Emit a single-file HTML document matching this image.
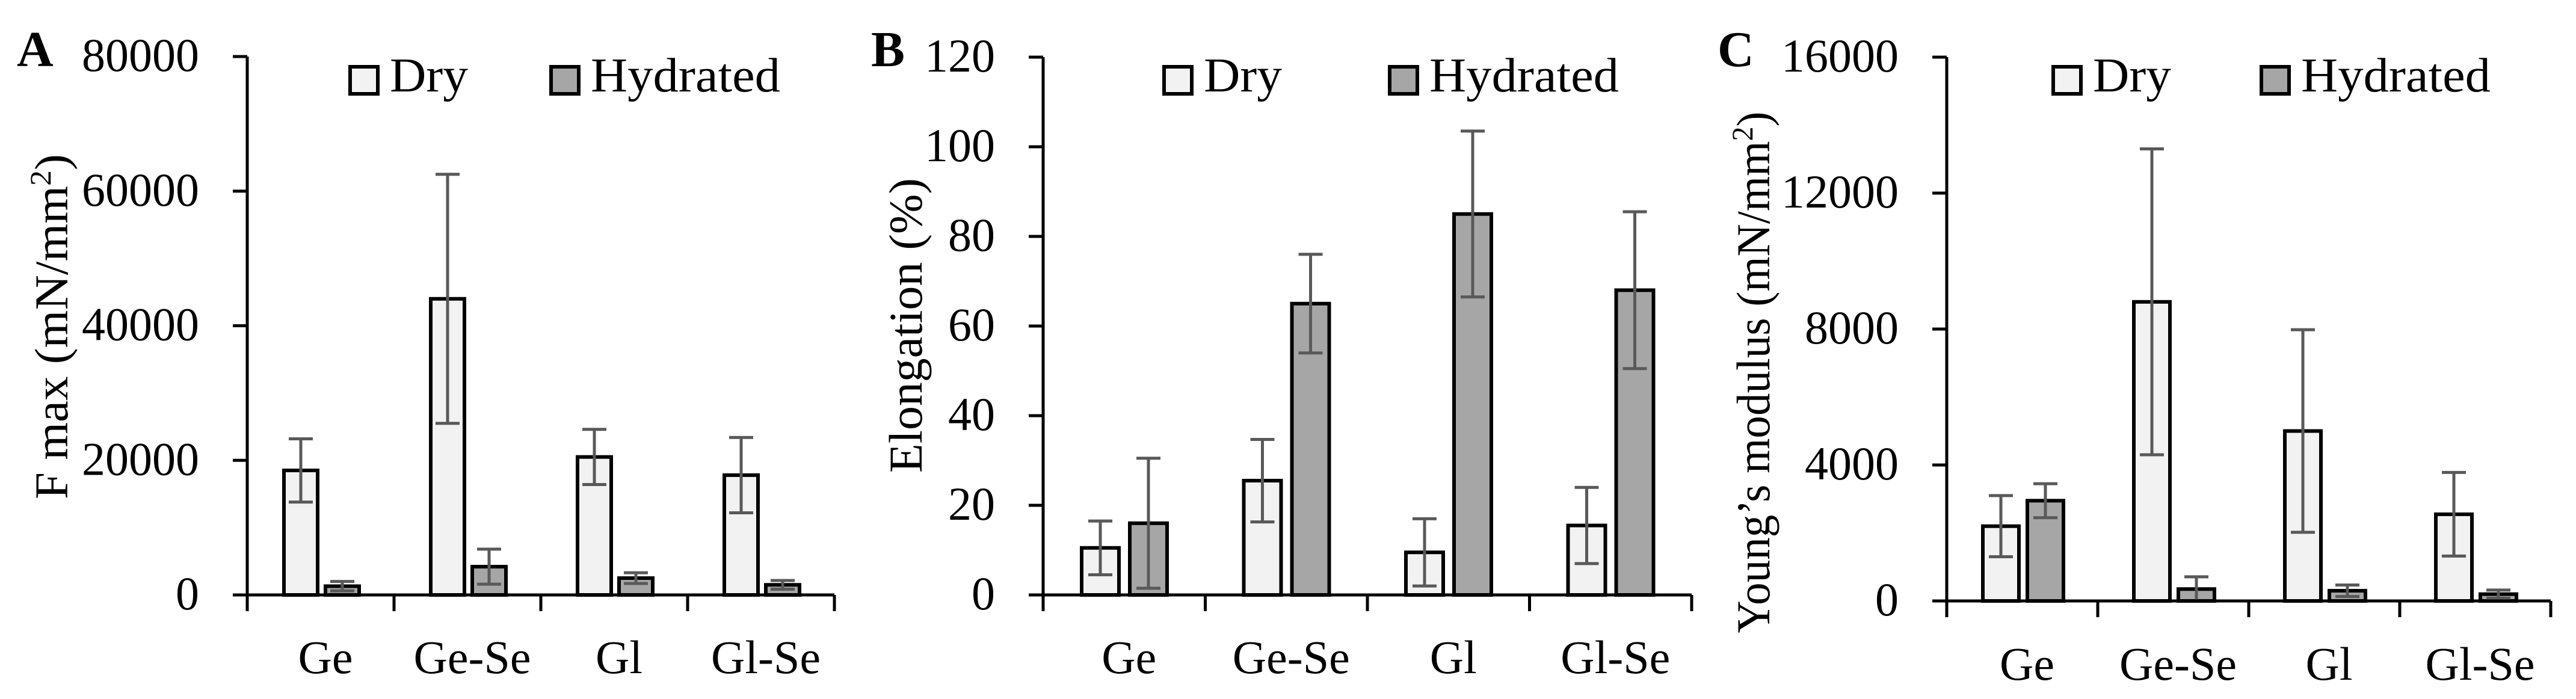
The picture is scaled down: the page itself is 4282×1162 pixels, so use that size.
<!DOCTYPE html>
<html><head><meta charset="utf-8"><style>
html,body{margin:0;padding:0;background:#fff;overflow:hidden;}
svg{display:block;}
svg text{font-family:"Liberation Serif","DejaVu Serif",serif;}
</style></head><body>
<svg id="fig" width="4282" height="1162" viewBox="0 0 4282 1162" font-family="Liberation Serif, DejaVu Serif, serif" xmlns="http://www.w3.org/2000/svg"></svg>
<script>
const categories = ["Ge","Ge-Se","Gl","Gl-Se"];
// Panel A: F max
const aDry = [18500, 44000, 20500, 17800];
const aDryErr = [4700, 18500, 4100, 5600];
const aHyd = [1300, 4200, 2500, 1500];
const aHydErr = [700, 2600, 800, 650];
const aTicks = [0, 20000, 40000, 60000, 80000];
// Panel B: Elongation
const bDry = [10.5, 25.5, 9.5, 15.5];
const bDryErr = [6, 9.2, 7.5, 8.5];
const bHyd = [16, 65, 85, 68];
const bHydErr = [14.5, 11, 18.5, 17.5];
const bTicks = [0, 20, 40, 60, 80, 100, 120];
// Panel C: Young's modulus
const cDry = [2200, 8800, 5000, 2550];
const cDryErr = [900, 4500, 2980, 1230];
const cHyd = [2950, 350, 300, 200];
const cHydErr = [500, 360, 170, 120];
const cTicks = [0, 4000, 8000, 12000, 16000];

const svg = document.getElementById('fig');
const NS = 'http://www.w3.org/2000/svg';
function mk(tag, attrs, parent){
  const e = document.createElementNS(NS, tag);
  for (const k in attrs) e.setAttribute(k, attrs[k]);
  (parent||svg).appendChild(e);
  return e;
}

function panel(p){
  const g = mk('g', {});
  
  
  const max = p.ticks[p.ticks.length-1];
  const y = v => p.y0 - (v / max) * (p.y0 - p.yTop);
  const cw = (p.xEnd - p.x0) / categories.length;
  const xc = i => p.x0 + i * cw;

  const L = mk('text', {x:p.letterX, y:110, 'font-size':84, 'font-weight':'bold'}, g);
  L.textContent = p.letter;
  
  

  const t = mk('text', {x:p.titleX, y:p.titleY, 'font-size':78, 'text-anchor':'middle',
    transform:`rotate(-90 ${p.titleX} ${p.titleY})`, textLength:p.titleLen, lengthAdjust:'spacingAndGlyphs'}, g);
  t.innerHTML = p.title;
  
  

  p.ticks.forEach(v => {
    const tk = mk('line', {x1:p.x0-24, x2:p.x0, y1:y(v), y2:y(v), stroke:'#000', 'stroke-width':5}, g);
    
    
    const tl = mk('text', {x:p.x0-80, y:y(v)+24, 'font-size':78, 'text-anchor':'end'}, g);
    tl.textContent = v;
    
    
  });

  categories.forEach((c, i) => {
    const series = [[p.dry[i], p.dryErr[i], '#f2f2f2', p.dOff, 'dry'], [p.hyd[i], p.hydErr[i], '#a6a6a6', p.hOff, 'hydrated']];
    series.forEach(s => {
      const bx = xc(i) + s[3];
      const r = mk('rect', {x:bx, y:y(s[0]), width:p.bw, height:p.y0 - y(s[0]), fill:s[2], stroke:'#000', 'stroke-width':6}, g);
      
      
      const cx = bx + p.bw/2;
      const lo = Math.max(0, s[0]-s[1]), hi = s[0]+s[1];
      const eg = mk('g', {stroke:'#595959', 'stroke-width':5}, g);
      
      
      mk('line', {x1:cx, x2:cx, y1:y(lo), y2:y(hi)}, eg);
      mk('line', {x1:cx-20, x2:cx+20, y1:y(lo), y2:y(lo)}, eg);
      mk('line', {x1:cx-20, x2:cx+20, y1:y(hi), y2:y(hi)}, eg);
    });
    const cl = mk('text', {x:xc(i)+cw/2+8, y:p.catY, 'font-size':78, 'text-anchor':'middle'}, g);
    cl.textContent = c;
    
    
  });

  const ya = mk('line', {x1:p.x0, x2:p.x0, y1:p.yTop, y2:p.y0, stroke:'#000', 'stroke-width':5}, g);
  
  
  const xa = mk('line', {x1:p.x0-24, x2:p.xEnd, y1:p.y0, y2:p.y0, stroke:'#000', 'stroke-width':5}, g);
  
  
  for (let i = 0; i <= categories.length; i++){
    const xt = mk('line', {x1:xc(i), x2:xc(i), y1:p.y0, y2:p.y0+27, stroke:'#000', 'stroke-width':5}, g);
    
    
  }

  [[p.lg1, '#f2f2f2', 'Dry', 130], [p.lg2, '#a6a6a6', 'Hydrated', 315]].forEach(l => {
    const lr = mk('rect', {x:l[0], y:111, width:46, height:45, fill:l[1], stroke:'#000', 'stroke-width':6}, g);
    
    
    const lt = mk('text', {x:l[0]+66, y:152, 'font-size':80, textLength:l[3], lengthAdjust:'spacingAndGlyphs'}, g);
    lt.textContent = l[2];
    
    
  });
}

panel({letter:'A', letterX:28, x0:411, xEnd:1387, yTop:94, y0:989, ticks:aTicks,
  dry:aDry, dryErr:aDryErr, hyd:aHyd, hydErr:aHydErr, bw:56, dOff:61, hOff:130,
  title:'F max (mN/mm<tspan baseline-shift="super" font-size="50">2</tspan>)', titleX:112, titleY:543, titleLen:574,
  catY:1119, lg1:582, lg2:916});
panel({letter:'B', letterX:1448, x0:1734, xEnd:2812, yTop:95, y0:989, ticks:bTicks,
  dry:bDry, dryErr:bDryErr, hyd:bHyd, hydErr:bHydErr, bw:62, dOff:64, hOff:144,
  title:'Elongation (%)', titleX:1532, titleY:541, titleLen:490,
  catY:1119, lg1:1935, lg2:2310});
panel({letter:'C', letterX:2855, x0:3236, xEnd:4240, yTop:95, y0:999, ticks:cTicks,
  dry:cDry, dryErr:cDryErr, hyd:cHyd, hydErr:cHydErr, bw:60, dOff:60, hOff:134,
  title:'Young\u2019s modulus (mN/mm<tspan baseline-shift="super" font-size="50">2</tspan>)', titleX:2941, titleY:619, titleLen:867,
  catY:1130, lg1:3413, lg2:3759});
</script>
</body></html>
